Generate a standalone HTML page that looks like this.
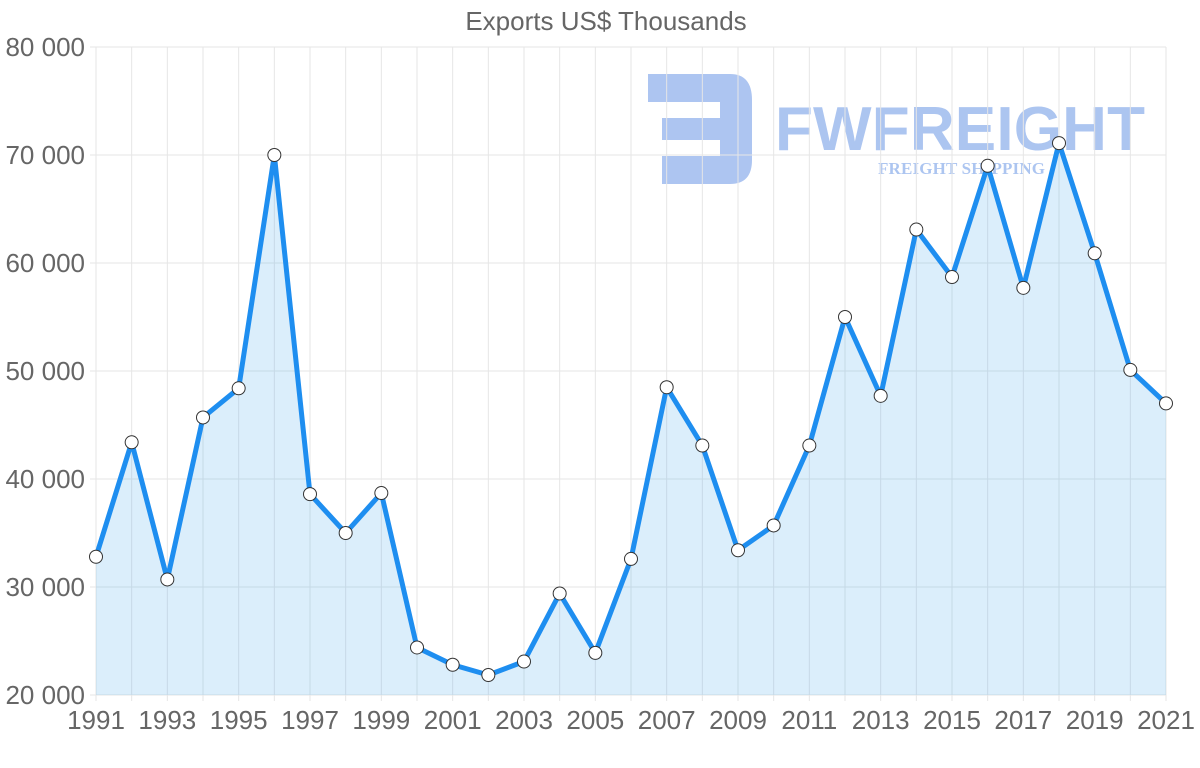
<!DOCTYPE html>
<html><head><meta charset="utf-8"><style>
body{margin:0;background:#fff;width:1200px;height:763px;overflow:hidden;font-family:"Liberation Sans",sans-serif}
</style></head><body>
<svg id="chart" width="1200" height="763" xmlns="http://www.w3.org/2000/svg">
<text x="606" y="30" text-anchor="middle" font-size="26" fill="#666">Exports US$ Thousands</text>
<g opacity="0.45">
<path d="M648 74 H730 Q752 74 752 100 V160 Q752 184 730 184 H662 V156 H720 V140 H662 V118 H720 V102 H648 Z" fill="#4a7fe0"/>
<text x="775" y="150" font-size="62" font-weight="bold" fill="#4a7fe0" textLength="370">FWFREIGHT</text>
<text x="878" y="174" font-size="17" font-weight="bold" font-family="Liberation Serif,serif" fill="#4a7fe0" textLength="167">FREIGHT SHIPPING</text>
</g>
<g id="grid"></g><g id="series"></g><g id="labels"></g>
</svg>
<script>
const years=[1991,1992,1993,1994,1995,1996,1997,1998,1999,2000,2001,2002,2003,2004,2005,2006,2007,2008,2009,2010,2011,2012,2013,2014,2015,2016,2017,2018,2019,2020,2021];
const exportsValues=[32800,43400,30700,45700,48400,70000,38600,35000,38700,24400,22800,21850,23100,29400,23900,32600,48500,43100,33400,35700,43100,55000,47700,63100,58700,69000,57700,71100,60900,50100,47000];
const yTicks=[20000,30000,40000,50000,60000,70000,80000];
const yTickLabels=["20 000","30 000","40 000","50 000","60 000","70 000","80 000"];
const NS="http://www.w3.org/2000/svg";
const x0=96,x1=1166,y0=695,y1=47;
const xs=i=>x0+(x1-x0)*i/(years.length-1);
const ys=v=>y0-(v-20000)/60000*(y0-y1);
function mk(t,a,p){const e=document.createElementNS(NS,t);for(const k in a)e.setAttribute(k,a[k]);p.appendChild(e);return e;}
const grid=document.getElementById('grid'),ser=document.getElementById('series'),lab=document.getElementById('labels');
yTicks.forEach((v,i)=>{
 const l=mk('line',{x1:x0-6,x2:x1,y1:ys(v),y2:ys(v),stroke:'#e6e6e6','stroke-width':1},grid);
 
 
 const t=mk('text',{x:85,y:ys(v)+9,'text-anchor':'end','font-size':26,fill:'#666'},lab);
 t.textContent=yTickLabels[i];
 
 
});
years.forEach((y,i)=>{
 const l=mk('line',{x1:xs(i),x2:xs(i),y1:y1,y2:y0+6,stroke:'#e6e6e6','stroke-width':1},grid);
 
 
 if(i%2===0){
  const t=mk('text',{x:xs(i),y:729,'text-anchor':'middle','font-size':26,fill:'#666'},lab);
  t.textContent=y;
  
  
 }
});
let d=exportsValues.map((v,i)=>(i?'L':'M')+xs(i)+' '+ys(v)).join(' ');
const area=mk('path',{d:d+` L${xs(years.length-1)} ${y0} L${x0} ${y0} Z`,fill:'rgba(54,162,235,0.18)'},ser);


const line=mk('path',{d:d,fill:'none',stroke:'#1e8ef0','stroke-width':5,'stroke-linejoin':'round'},ser);


exportsValues.forEach((v,i)=>{
 const c=mk('circle',{cx:xs(i),cy:ys(v),r:6.5,fill:'#fff',stroke:'#333','stroke-width':1},ser);
 
 
});
</script>
</body></html>
